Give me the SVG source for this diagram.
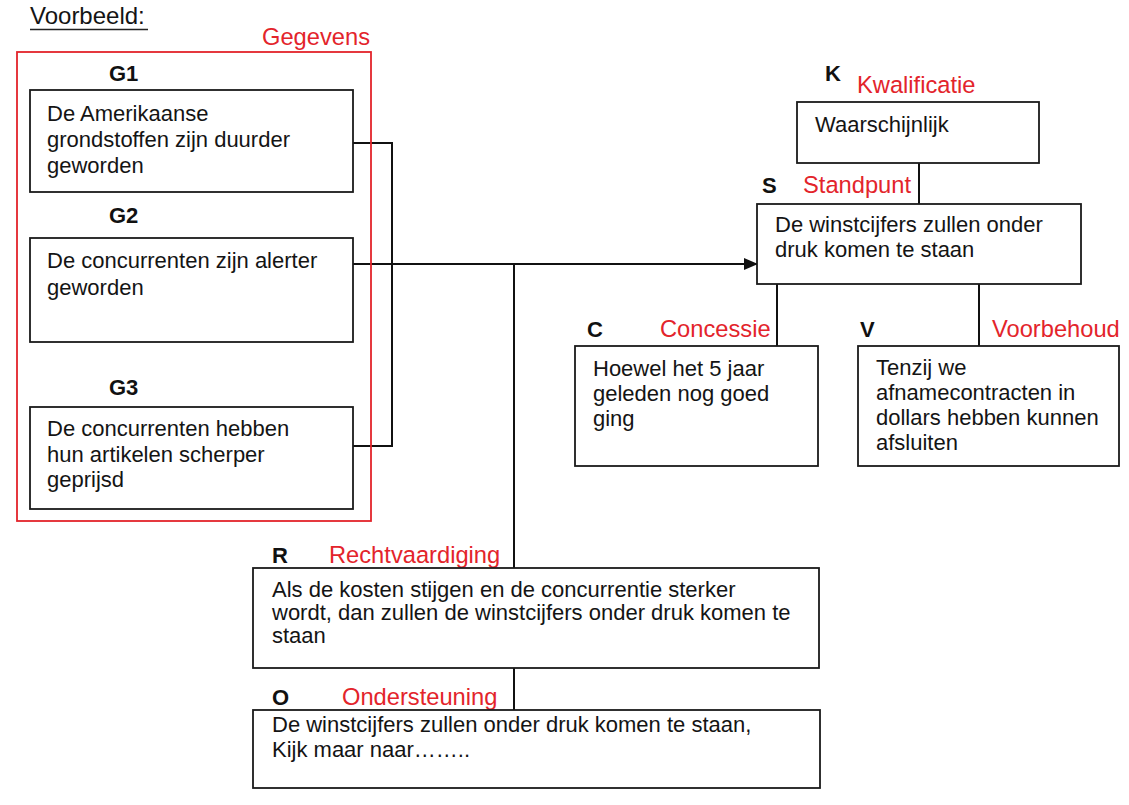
<svg xmlns="http://www.w3.org/2000/svg" width="1129" height="805" viewBox="0 0 1129 805">
<style>
.box{fill:#fff;stroke:#1a1a1a;stroke-width:1.8}
.t{font-family:"Liberation Sans",Arial,sans-serif;font-size:22px;fill:#141414}
.lab{font-family:"Liberation Sans",Arial,sans-serif;font-size:22px;font-weight:bold;fill:#111}
.red{font-family:"Liberation Sans",Arial,sans-serif;font-size:23.7px;fill:#e3242b}
.ln{fill:none;stroke:#111;stroke-width:2}
</style>
<defs>
<marker id="arr" markerWidth="14" markerHeight="12" refX="13" refY="6" orient="auto" markerUnits="userSpaceOnUse">
<path d="M0,0 L14,6 L0,12 Z" fill="#111"/>
</marker>
</defs>
<rect width="1129" height="805" fill="#fff"/>
<text x="30" y="24" class="t" style="font-size:24px">Voorbeeld:</text>
<line x1="30" y1="29.5" x2="148" y2="29.5" stroke="#222" stroke-width="1.5"/>

<g id="connectors">
<polyline class="ln" points="353,143 392,143 392,446 353,446"/>
<line class="ln" x1="353" y1="264" x2="757" y2="264" marker-end="url(#arr)"/>
<line class="ln" x1="514" y1="264" x2="514" y2="568"/>
<line class="ln" x1="919" y1="163" x2="919" y2="204"/>
<line class="ln" x1="777" y1="284" x2="777" y2="346"/>
<line class="ln" x1="979" y1="284" x2="979" y2="346"/>
<line class="ln" x1="514" y1="668" x2="514" y2="710"/>
</g>

<g id="gegevens">
<rect x="17" y="52" width="354" height="469" fill="none" stroke="#e3242b" stroke-width="1.8"/>
<text x="262" y="45" class="red">Gegevens</text>
</g>

<g id="G1">
<text x="109" y="81" class="lab">G1</text>
<rect x="30" y="90" width="323" height="102" class="box"/>
<text class="t"><tspan x="47" y="121">De Amerikaanse</tspan><tspan x="47" y="147">grondstoffen zijn duurder</tspan><tspan x="47" y="173">geworden</tspan></text>
</g>

<g id="G2">
<text x="109" y="223" class="lab">G2</text>
<rect x="30" y="238" width="323" height="104" class="box"/>
<text class="t"><tspan x="47" y="268">De concurrenten zijn alerter</tspan><tspan x="47" y="295">geworden</tspan></text>
</g>

<g id="G3">
<text x="109" y="395" class="lab">G3</text>
<rect x="30" y="407" width="323" height="102" class="box"/>
<text class="t"><tspan x="47" y="436">De concurrenten hebben</tspan><tspan x="47" y="462">hun artikelen scherper</tspan><tspan x="47" y="487">geprijsd</tspan></text>
</g>

<g id="K">
<text x="825" y="81" class="lab">K</text>
<text x="857" y="93" class="red">Kwalificatie</text>
<rect x="797" y="102" width="242" height="61" class="box"/>
<text x="815" y="132" class="t">Waarschijnlijk</text>
</g>

<g id="S">
<text x="762" y="193" class="lab">S</text>
<text x="803" y="193" class="red">Standpunt</text>
<rect x="757" y="204" width="324" height="80" class="box"/>
<text class="t"><tspan x="775" y="232">De winstcijfers zullen onder</tspan><tspan x="775" y="257">druk komen te staan</tspan></text>
</g>

<g id="C">
<text x="587" y="337" class="lab">C</text>
<text x="660" y="337" class="red">Concessie</text>
<rect x="575" y="346" width="243" height="120" class="box"/>
<text class="t"><tspan x="593" y="376">Hoewel het 5 jaar</tspan><tspan x="593" y="401">geleden nog goed</tspan><tspan x="593" y="426">ging</tspan></text>
</g>

<g id="V">
<text x="860" y="337" class="lab">V</text>
<text x="992" y="337" class="red">Voorbehoud</text>
<rect x="858" y="346" width="261" height="120" class="box"/>
<text class="t"><tspan x="876" y="375">Tenzij we</tspan><tspan x="876" y="400">afnamecontracten in</tspan><tspan x="876" y="425">dollars hebben kunnen</tspan><tspan x="876" y="450">afsluiten</tspan></text>
</g>

<g id="R">
<text x="272" y="563" class="lab">R</text>
<text x="329" y="563" class="red">Rechtvaardiging</text>
<rect x="253" y="568" width="566" height="100" class="box"/>
<text class="t"><tspan x="272" y="597">Als de kosten stijgen en de concurrentie sterker</tspan><tspan x="272" y="620">wordt, dan zullen de winstcijfers onder druk komen te</tspan><tspan x="272" y="643">staan</tspan></text>
</g>

<g id="O">
<text x="272" y="705" class="lab">O</text>
<text x="342" y="705" class="red">Ondersteuning</text>
<rect x="253" y="710" width="567" height="78" class="box"/>
<text class="t"><tspan x="272" y="732">De winstcijfers zullen onder druk komen te staan,</tspan><tspan x="272" y="757">Kijk maar naar……..</tspan></text>
</g>
</svg>
